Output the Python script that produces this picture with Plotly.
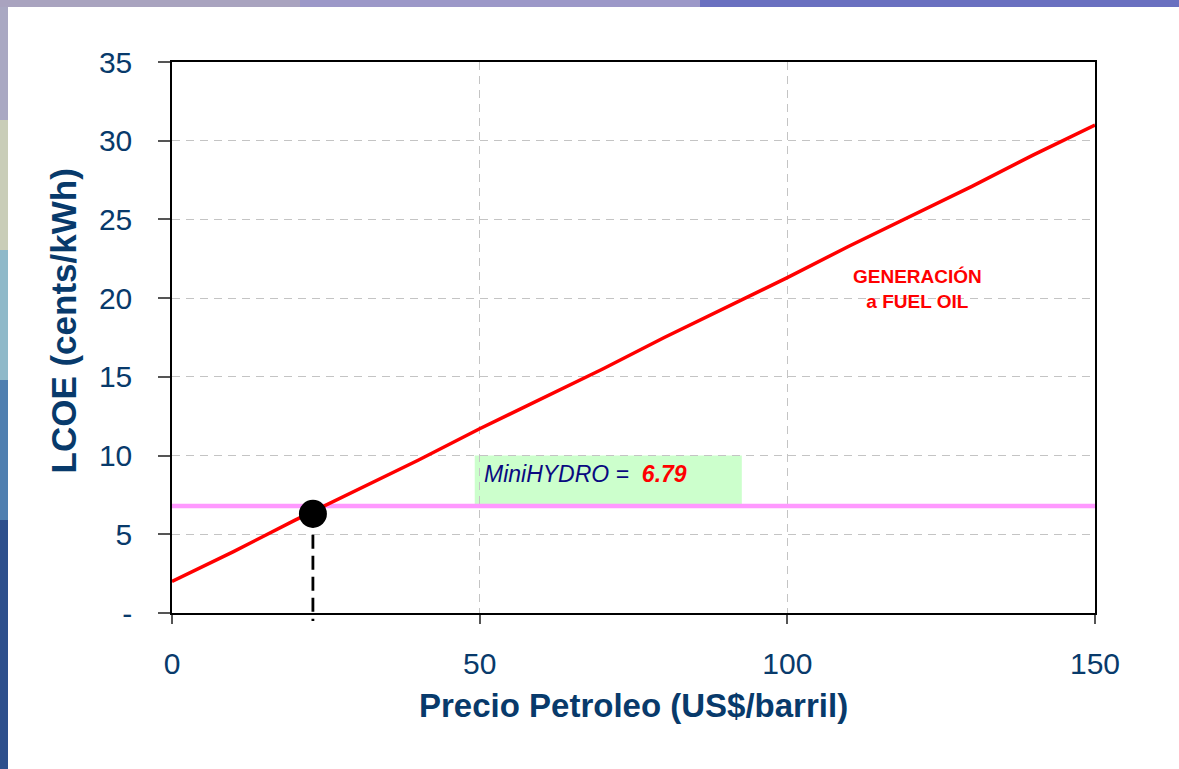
import plotly.graph_objects as go

# ---- data ----
price = [0, 10, 20, 30, 40, 50, 60, 70, 80, 90, 100, 110, 120, 130, 140, 150]
lcoe_fuel_oil = [2.0, 3.9, 5.9, 7.8, 9.7, 11.7, 13.6, 15.5, 17.5, 19.4, 21.3, 23.3, 25.2, 27.1, 29.1, 31.0]
minihydro = 6.79
breakeven_price = 22.9
breakeven_lcoe = 6.3
x_ticks = [0, 50, 100, 150]
y_ticks = [0, 5, 10, 15, 20, 25, 30, 35]
y_ticktext = ["-", "5", "10", "15", "20", "25", "30", "35"]

W, H = 1179, 769
L, R, T, B = 172, 1095, 62, 613
YMAX = 35

def px_x(p):
    return (p - L) / (R - L)

def px_y(p):
    return (B - p) / (B - T)

FONT = "Arial, Liberation Sans, sans-serif"
AXC = "#083a6b"

fig = go.Figure()

# pink MiniHYDRO line
fig.add_trace(go.Scatter(x=[price[0], price[-1]], y=[minihydro, minihydro], mode="lines",
                         line=dict(color="#FF99FF", width=4.5), hoverinfo="skip", showlegend=False))
# red fuel oil line
fig.add_trace(go.Scatter(x=price, y=lcoe_fuel_oil, mode="lines",
                         line=dict(color="#FF0000", width=3.5), showlegend=False))
# breakeven dot
fig.add_trace(go.Scatter(x=[breakeven_price], y=[breakeven_lcoe], mode="markers",
                         marker=dict(color="black", size=28), cliponaxis=False, showlegend=False))

shapes = []
# slide background strips
bg_left = [(0, 120, "#a9a8c2"), (120, 250, "#c9cdb8"), (250, 380, "#8fb9c9"),
           (380, 520, "#4f7fb0"), (520, 769, "#2d4f8c")]
for y0, y1, c in bg_left:
    shapes.append(dict(type="rect", xref="paper", yref="paper", x0=px_x(0), x1=px_x(8),
                       y0=px_y(y1), y1=px_y(y0), fillcolor=c, line_width=0, layer="below"))
bg_top = [(0, 300, "#a9a3bf"), (300, 700, "#9c98c8"), (700, 1179, "#6a70c0")]
for x0, x1, c in bg_top:
    shapes.append(dict(type="rect", xref="paper", yref="paper", x0=px_x(x0), x1=px_x(x1),
                       y0=px_y(7), y1=px_y(0), fillcolor=c, line_width=0, layer="below"))
# green label box
shapes.append(dict(type="rect", xref="x", yref="y", x0=49.2, x1=92.6, y0=minihydro, y1=10.0,
                   fillcolor="#CCFFCC", line_width=0, layer="below"))
# dashed drop line from the dot
shapes.append(dict(type="line", xref="x", yref="paper", x0=breakeven_price, x1=breakeven_price,
                   y0=breakeven_lcoe / YMAX, y1=px_y(621),
                   line=dict(color="black", width=2.8, dash="14px,7px"), layer="above"))

annotations = [
    dict(xref="x", yref="y", x=50.4, y=8.85, xanchor="left", yanchor="middle", showarrow=False,
         text="<i>MiniHYDRO =  </i><span style='color:#FF0000'><b><i>6.79</i></b></span>",
         font=dict(family=FONT, size=23, color="#0a0a80")),
    dict(xref="x", yref="y", x=121.2, y=20.6, xanchor="center", yanchor="middle", showarrow=False,
         text="<b>GENERACIÓN<br>a FUEL OIL</b>", font=dict(family=FONT, size=19, color="#FF0000")),
    dict(xref="paper", yref="paper", x=0.5, y=px_y(706), xanchor="center", yanchor="middle",
         showarrow=False, text="<b>Precio Petroleo (US$/barril)</b>",
         font=dict(family=FONT, size=33, color=AXC)),
    dict(xref="paper", yref="paper", x=px_x(63), y=px_y(476), xanchor="center", yanchor="bottom",
         textangle=-90, showarrow=False, text="<b>LCOE (cents/kWh)</b>",
         font=dict(family=FONT, size=35, color=AXC)),
]

fig.update_layout(
    width=W, height=H,
    margin=dict(l=L, r=W - R, t=T, b=H - B, pad=0),
    paper_bgcolor="white", plot_bgcolor="white",
    shapes=shapes, annotations=annotations,
    showlegend=False,
    xaxis=dict(range=[0, 150], tickvals=x_ticks, ticks="outside", ticklen=9, tickwidth=1.5,
               tickcolor="#555555", showline=True, linecolor="black", linewidth=1.5, mirror=True,
               showgrid=True, gridcolor="#c4c4c4", griddash="8px,6px", gridwidth=1,
               zeroline=False, ticklabelstandoff=14,
               tickfont=dict(family=FONT, size=30, color=AXC)),
    yaxis=dict(range=[0, YMAX], tickvals=y_ticks, ticktext=y_ticktext, ticks="outside", ticklen=12,
               tickwidth=1.5, tickcolor="#555555", showline=True, linecolor="black", linewidth=1.5,
               mirror=True, showgrid=True, gridcolor="#c4c4c4", griddash="8px,6px", gridwidth=1,
               zeroline=False, ticklabelstandoff=20,
               tickfont=dict(family=FONT, size=30, color=AXC)),
)

fig.write_html("out.html", config={"displayModeBar": False},
               post_script="document.body.style.margin='0';")
